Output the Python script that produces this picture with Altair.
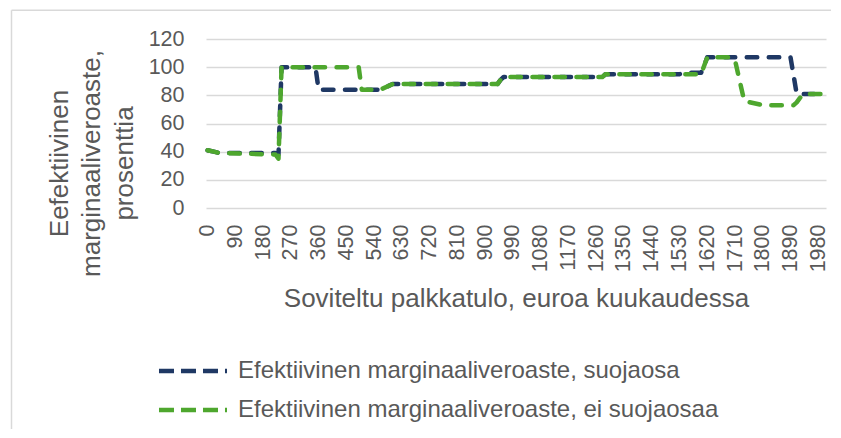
import altair as alt
import pandas as pd

series_names = [
    "Efektiivinen marginaaliveroaste, suojaosa",
    "Efektiivinen marginaaliveroaste, ei suojaosaa",
]
series_colors = ["#1F3864", "#4EA72E"]

# Breakpoints of the two series (x = euroa kuukaudessa, y = prosenttia)
x_suojaosa = [0, 20, 40, 220, 230, 240, 350, 360, 560, 600, 940, 950, 960,
              1280, 1290, 1530, 1550, 1600, 1610, 1620, 1890, 1900, 1910, 2000]
y_suojaosa = [41, 40, 39, 39, 38, 100, 100, 84, 84, 88, 88, 91, 93,
              93, 95, 95, 96, 96, 101, 107, 107, 94, 81, 81]

x_ei_suojaosaa = [0, 20, 40, 220, 230, 240, 490, 500, 560, 600, 940, 950, 960,
                  1280, 1290, 1600, 1610, 1620, 1700, 1710, 1740, 1800,
                  1900, 1910, 1920, 1930, 2000]
y_ei_suojaosaa = [41, 40, 39, 38, 35, 100, 100, 84, 84, 88, 88, 91, 93,
                  93, 95, 95, 101, 107, 107, 105, 76, 73,
                  73, 75, 78, 81, 81]

x_ticks = [0, 90, 180, 270, 360, 450, 540, 630, 720, 810, 900, 990, 1080,
           1170, 1260, 1350, 1440, 1530, 1620, 1710, 1800, 1890, 1980]
y_ticks = [0, 20, 40, 60, 80, 100, 120]

y_title = ["Eefektiivinen", "marginaaliveroaste,", "prosenttia"]
x_title = "Soviteltu palkkatulo, euroa kuukaudessa"

df = pd.concat([
    pd.DataFrame({"x": x_suojaosa, "y": y_suojaosa, "sarja": series_names[0]}),
    pd.DataFrame({"x": x_ei_suojaosaa, "y": y_ei_suojaosaa, "sarja": series_names[1]}),
], ignore_index=True)

FONT = "Liberation Sans"
TEXT = "#595959"

lines = alt.Chart(df).mark_line(
    strokeWidth=4.5, strokeDash=[10.5, 11.5], strokeCap="round", strokeJoin="round"
).encode(
    x=alt.X("x:Q",
            scale=alt.Scale(domain=[-5, 2005], nice=False, zero=False),
            axis=alt.Axis(values=x_ticks, format="d", labelAngle=-90, grid=False,
                          domain=False, ticks=False, labelPadding=16, labelFontSize=21.5,
                          labelFlush=False, labelOverlap=False,
                          labelColor=TEXT, labelFont=FONT,
                          title=x_title, titleFont=FONT, titleFontSize=26,
                          titleFontWeight="normal", titleColor=TEXT,
                          titleBaseline="middle", titleY=90)),
    y=alt.Y("y:Q",
            scale=alt.Scale(domain=[0, 120], nice=False, zero=True),
            axis=alt.Axis(values=y_ticks, grid=True, gridColor="#d9d9d9", gridWidth=1.5,
                          domain=False, ticks=False, labelPadding=22, labelFontSize=21.5,
                          labelColor=TEXT, labelFont=FONT,
                          title=y_title, titleFont=FONT, titleFontSize=26,
                          titleFontWeight="normal", titleColor=TEXT,
                          titleAngle=270, titleAlign="center", titleBaseline="middle",
                          titleLineHeight=32.5, titleX=-147, titleY=124)),
    color=alt.Color("sarja:N",
                    scale=alt.Scale(domain=series_names, range=series_colors),
                    legend=alt.Legend(orient="none", legendX=-27, legendY=318,
                                      direction="vertical", title=None,
                                      symbolType="M-3,0H3", symbolSize=514,
                                      symbolStrokeWidth=4.5, symbolDash=[15, 7],
                                      labelFontSize=24, labelFont=FONT, labelColor=TEXT,
                                      labelOffset=31, rowPadding=13, padding=0,
                                      labelLimit=0)),
    order=alt.Order("x:Q"),
)

dummy = pd.DataFrame({"a": [0]})
border_left = alt.Chart(dummy).mark_rule(color="#d9d9d9", strokeWidth=1.5).encode(
    x=alt.value(-194.5), y=alt.value(-28.8), y2=alt.value(390)
)
border_top = alt.Chart(dummy).mark_rule(color="#d9d9d9", strokeWidth=1.5).encode(
    x=alt.value(-194.5), x2=alt.value(625), y=alt.value(-28.8)
)

chart = alt.layer(border_left, border_top, lines).properties(
    width=620, height=169,
    padding={"left": 2, "top": 1, "right": 0, "bottom": 0},
    background="white",
).configure_view(stroke=None)

chart.save("out.html", embed_options={"renderer": "svg", "actions": False})
